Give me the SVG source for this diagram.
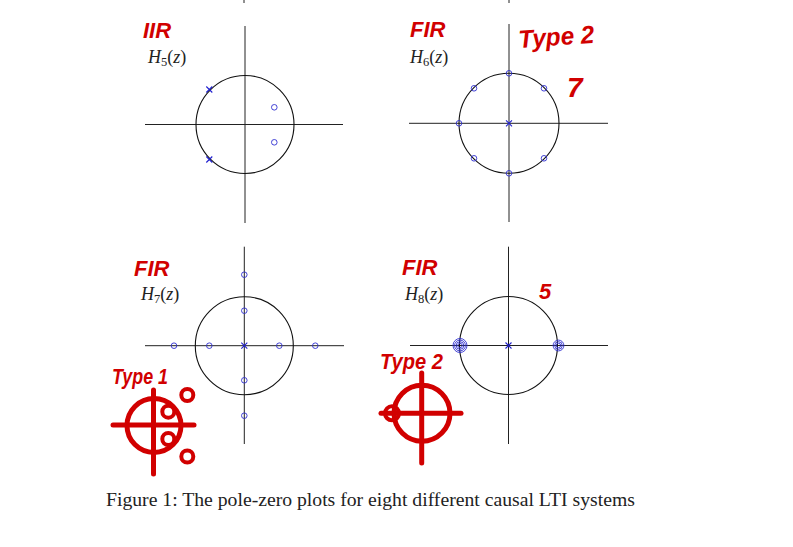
<svg xmlns="http://www.w3.org/2000/svg" width="793" height="547" viewBox="0 0 793 547">
<style>
.ax{stroke:#222;stroke-width:1;fill:none}
.uc{stroke:#111;stroke-width:1.1;fill:none}
.z{stroke:#3030d0;stroke-width:0.9;fill:none}
.p{stroke:#2020d0;stroke-width:1.1;fill:none}
.hw{fill:#d10000;font-family:"Liberation Sans",sans-serif;font-weight:bold;font-style:italic}
.rs{stroke:#d10000;fill:none;stroke-linecap:round}
.m{font-family:"Liberation Serif",serif;font-size:18px;fill:#222}
.cap{font-family:"Liberation Serif",serif;font-size:19.7px;fill:#222}
</style>
<defs>
<circle id="zc" r="2.8" class="z"/>
<path id="px" d="M-3,-3L3,3M-3,3L3,-3" class="p"/>
</defs>
<rect width="793" height="547" fill="#fff"/>
<line x1="244" y1="0" x2="244" y2="3" class="ax"/>
<line x1="509" y1="0" x2="509" y2="3" class="ax"/>

<g id="plot-h5">
<line x1="245" y1="26" x2="245" y2="223" class="ax"/>
<line x1="145" y1="124.5" x2="343" y2="124.5" class="ax"/>
<circle cx="245" cy="124.5" r="49" class="uc"/>
<use href="#px" x="209.3" y="89.5"/>
<use href="#px" x="209.3" y="159.5"/>
<use href="#zc" x="274.3" y="107.3"/>
<use href="#zc" x="274.3" y="142.3"/>
<text x="143" y="38" class="hw" font-size="22">IIR</text>
<text x="148" y="63" class="m"><tspan font-style="italic">H</tspan><tspan font-size="12.5" dy="3">5</tspan><tspan dy="-3">(</tspan><tspan font-style="italic">z</tspan>)</text>
</g>

<g id="plot-h6">
<line x1="509" y1="24" x2="509" y2="222" class="ax"/>
<line x1="409" y1="123.3" x2="608" y2="123.3" class="ax"/>
<circle cx="509" cy="123.3" r="50" class="uc"/>
<use href="#px" x="509" y="123.3"/>
<use href="#zc" x="509" y="73.3"/>
<use href="#zc" x="474" y="88.3"/>
<use href="#zc" x="544" y="88.3"/>
<use href="#zc" x="459" y="123.3"/>
<use href="#zc" x="474" y="158.3"/>
<use href="#zc" x="544" y="158.3"/>
<use href="#zc" x="509" y="173.3"/>
<text x="410" y="37" class="hw" font-size="22">FIR</text>
<text x="410" y="63" class="m"><tspan font-style="italic">H</tspan><tspan font-size="12.5" dy="3">6</tspan><tspan dy="-3">(</tspan><tspan font-style="italic">z</tspan>)</text>
<text x="519" y="48" class="hw" font-size="25" textLength="76" lengthAdjust="spacingAndGlyphs" transform="rotate(-4 519 48)">Type 2</text>
<text x="567" y="97" class="hw" font-size="28">7</text>
</g>

<g id="plot-h7">
<line x1="244.3" y1="246.7" x2="244.3" y2="444" class="ax"/>
<line x1="145" y1="345.7" x2="344" y2="345.7" class="ax"/>
<circle cx="244.3" cy="345.7" r="49" class="uc"/>
<use href="#px" x="244.3" y="345.7"/>
<use href="#zc" x="174" y="345.7"/>
<use href="#zc" x="209.3" y="345.7"/>
<use href="#zc" x="279.3" y="345.7"/>
<use href="#zc" x="315.3" y="345.7"/>
<use href="#zc" x="244.3" y="274.7"/>
<use href="#zc" x="244.3" y="310.7"/>
<use href="#zc" x="244.3" y="380.3"/>
<use href="#zc" x="244.3" y="415.7"/>
<text x="134" y="276" class="hw" font-size="22">FIR</text>
<text x="141" y="300" class="m"><tspan font-style="italic">H</tspan><tspan font-size="12.5" dy="3">7</tspan><tspan dy="-3">(</tspan><tspan font-style="italic">z</tspan>)</text>
<text x="112" y="384" class="hw" font-size="22" textLength="56" lengthAdjust="spacingAndGlyphs">Type 1</text>
<circle cx="154" cy="425.5" r="27" class="rs" stroke-width="5"/>
<line x1="153.5" y1="390" x2="153.5" y2="474" class="rs" stroke-width="5"/>
<line x1="113" y1="425" x2="194" y2="425" class="rs" stroke-width="5"/>
<circle cx="168.3" cy="411.7" r="6" class="rs" stroke-width="4"/>
<circle cx="168.3" cy="439" r="6" class="rs" stroke-width="4"/>
<circle cx="187.3" cy="395" r="6" class="rs" stroke-width="4"/>
<circle cx="187.3" cy="456.5" r="6" class="rs" stroke-width="4"/>
</g>

<g id="plot-h8">
<line x1="508.5" y1="246.7" x2="508.5" y2="444" class="ax"/>
<line x1="410" y1="345.5" x2="608" y2="345.5" class="ax"/>
<circle cx="508.5" cy="345.5" r="49" class="uc"/>
<use href="#px" x="508.5" y="345.5"/>
<g class="z">
<circle cx="460" cy="345.5" r="2.2"/>
<circle cx="460" cy="345.5" r="3.8"/>
<circle cx="460" cy="345.5" r="5.4"/>
<circle cx="460" cy="345.5" r="7"/>
<circle cx="558.5" cy="345.5" r="2.2"/>
<circle cx="558.5" cy="345.5" r="3.8"/>
<circle cx="558.5" cy="345.5" r="5.4"/>
</g>
<text x="402" y="275" class="hw" font-size="22">FIR</text>
<text x="405" y="300" class="m"><tspan font-style="italic">H</tspan><tspan font-size="12.5" dy="3">8</tspan><tspan dy="-3">(</tspan><tspan font-style="italic">z</tspan>)</text>
<text x="539" y="299" class="hw" font-size="22">5</text>
<text x="380" y="369" class="hw" font-size="22" textLength="63" lengthAdjust="spacingAndGlyphs">Type 2</text>
<circle cx="422" cy="413.3" r="28" class="rs" stroke-width="5"/>
<line x1="421.7" y1="373" x2="421.7" y2="463" class="rs" stroke-width="5"/>
<line x1="381" y1="413.3" x2="461" y2="413.3" class="rs" stroke-width="5"/>
<circle cx="392" cy="413.3" r="7" class="rs" stroke-width="4"/>
</g>

<text x="106" y="506" class="cap">Figure 1: The pole-zero plots for eight different causal LTI systems</text>
</svg>
